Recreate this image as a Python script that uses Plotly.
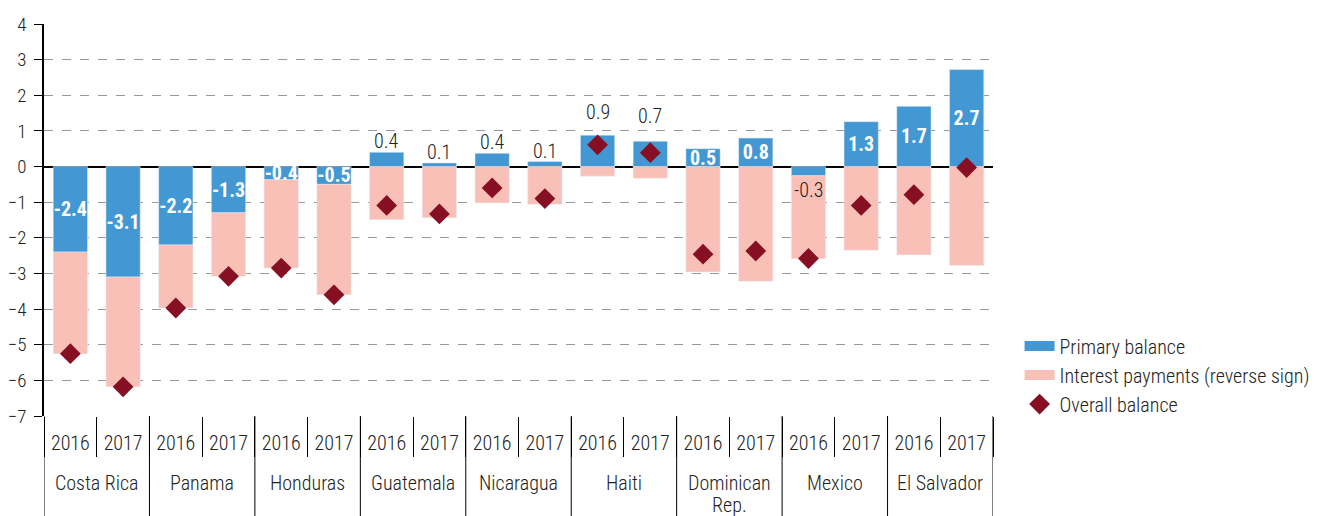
import plotly.graph_objects as go

# fiscal balances 2016-2017, % of GDP
countries = ['Costa Rica', 'Panama', 'Honduras', 'Guatemala', 'Nicaragua', 'Haiti',
             'Dominican<br>Rep.', 'Mexico', 'El Salvador']
years = ['2016', '2017']

primary_balance = [-2.4, -3.1, -2.2, -1.3, -0.37, -0.5, 0.4, 0.1, 0.37, 0.14,
                   0.88, 0.71, 0.5, 0.8, -0.26, 1.26, 1.69, 2.72]
interest_payments = [-2.85, -3.08, -1.77, -1.78, -2.48, -3.1, -1.49, -1.44, -1.02, -1.06,
                     -0.27, -0.33, -2.96, -3.22, -2.33, -2.35, -2.48, -2.78]
overall_balance = [-5.25, -6.18, -3.97, -3.08, -2.85, -3.6, -1.09, -1.33, -0.6, -0.9,
                   0.61, 0.39, -2.46, -2.37, -2.58, -1.09, -0.79, -0.03]

# label style: which primary-balance labels sit outside the bar, and extra lift in px
label_outside = [False, False, False, False, False, False, True, True, True, True,
                 True, True, False, False, True, False, False, False]
label_lift = [0, 0, 0, 0, 0, 0, 0, 0, 0, 0,
              12, 14, 0, 0, 0, 0, 0, 0]

FONT = 'Roboto Condensed, DejaVu Sans Condensed, Liberation Sans Narrow, sans-serif'
BLUE = '#4398d3'
PINK = '#f9c0b8'
RED = '#870f24'
TXT = '#222'

keys = [c + ' ' + y for c in countries for y in years]
x_year = [y for _ in countries for y in years]
n = len(keys)
# page body has an 8px margin, so the figure is 8px smaller than the window
W, H = 1311, 508
M = dict(l=36, r=326, t=16, b=100)
plot_h = H - M['t'] - M['b']

labels = ['%.1f' % v for v in primary_balance]

fig = go.Figure()
fig.add_trace(go.Bar(
    x=keys, y=primary_balance, name='Primary balance', marker_color=BLUE, showlegend=False,
    text=['' if o else t for t, o in zip(labels, label_outside)],
    textposition='inside', insidetextanchor='middle', textangle=0,
    textfont=dict(family=FONT, size=20, color='white', weight='bold'),
    cliponaxis=False,
))
fig.add_trace(go.Bar(
    x=keys, y=interest_payments, name='Interest payments (reverse sign)',
    marker_color=PINK, showlegend=False,
))
fig.add_trace(go.Scatter(
    x=keys, y=overall_balance, name='Overall balance', mode='markers', showlegend=False,
    marker=dict(symbol='diamond', size=16, color=RED),
))

# small values: label outside the bar end
for k, o in enumerate(label_outside):
    if not o:
        continue
    pos = primary_balance[k] > 0
    fig.add_annotation(x=keys[k], y=primary_balance[k], text=labels[k], showarrow=False,
                       yanchor='bottom' if pos else 'top',
                       yshift=(label_lift[k] - 3) if pos else 0,
                       font=dict(family=FONT, size=20, color=TXT, weight=300))

# legend entries: wide rectangles for the bars, diamond for the overall balance
fig.add_trace(go.Scatter(x=[None], y=[None], mode='lines', name='Primary balance',
                         line=dict(color=BLUE, width=15)))
fig.add_trace(go.Scatter(x=[None], y=[None], mode='lines',
                         name='Interest payments (reverse sign)',
                         line=dict(color=PINK, width=15)))
fig.add_trace(go.Scatter(x=[None], y=[None], mode='markers', name='Overall balance',
                         marker=dict(symbol='diamond', size=16, color=RED)))

# country names (one annotation per line, tight leading) and dividers
for i, c in enumerate(countries):
    for j, line in enumerate(c.split('<br>')):
        fig.add_annotation(x=2 * i + 0.5, xref='x2', y=-(53 + 22 * j) / plot_h, yref='paper',
                           text=line, showarrow=False, yanchor='top',
                           font=dict(family=FONT, size=20, color=TXT, weight=300))
for i in range(len(countries) + 1):
    fig.add_shape(type='line', xref='x2', yref='paper', x0=2 * i - 0.5, x1=2 * i - 0.5,
                  y0=0, y1=-M['b'] / plot_h, line=dict(color='black', width=1))

fig.update_layout(
    width=W, height=H,
    margin=dict(M, autoexpand=False),
    barmode='relative', bargap=0.35,
    plot_bgcolor='white', paper_bgcolor='white',
    font=dict(family=FONT, size=20, color=TXT, weight=300),
    uniformtext=dict(minsize=20, mode='show'),
    legend=dict(x=1.028, y=0.228, xanchor='left', yanchor='top',
                font=dict(size=20), tracegroupgap=0, itemwidth=30),
    xaxis=dict(type='category', range=[-0.5, n - 0.5], tickmode='array', tickvals=keys,
               ticktext=x_year, ticks='outside', ticklen=9, tickcolor='rgba(0,0,0,0)',
               showline=False, showgrid=False, tickfont=dict(size=20), automargin=False),
    # year separators along the bottom
    xaxis2=dict(overlaying='x', anchor='y', range=[-0.5, n - 0.5],
                tickvals=[k - 0.5 for k in range(n + 1)], ticks='outside', ticklen=40,
                tickcolor='black', showticklabels=False, showgrid=False, zeroline=False,
                showline=False, automargin=False),
    # tick marks along the zero line
    xaxis3=dict(overlaying='x', anchor='free', position=7 / 11, range=[-0.5, n - 0.5],
                tickvals=[k - 0.5 for k in range(n + 1)], ticks='outside', ticklen=5,
                tickcolor='black', showticklabels=False, showgrid=False, zeroline=False,
                showline=False, automargin=False),
    yaxis=dict(range=[-7, 4], dtick=1, showgrid=True, gridcolor='#999', griddash='dash',
               gridwidth=1, zeroline=True, zerolinecolor='black', zerolinewidth=1.5,
               showline=True, linecolor='black', linewidth=1.5, ticks='outside', ticklen=8,
               tickcolor='black', tickfont=dict(size=19), ticklabelstandoff=4,
               automargin=False),
)

fig.write_html('out.html')
